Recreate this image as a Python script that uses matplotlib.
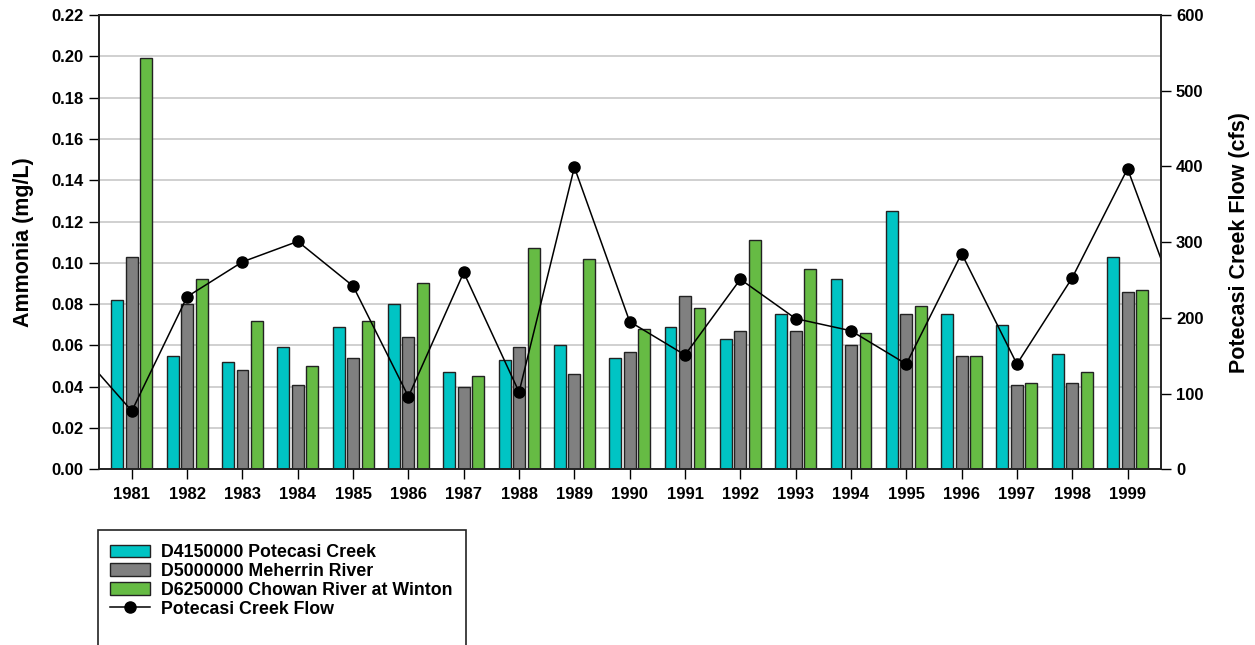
import numpy as np
import matplotlib.pyplot as plt
from matplotlib.lines import Line2D
from matplotlib.patches import Patch, Rectangle

plt.rcParams['font.family'] = ['Liberation Sans', 'DejaVu Sans']
plt.rcParams['font.weight'] = 'bold'

# data
years = ['1981', '1982', '1983', '1984', '1985', '1986', '1987', '1988', '1989', '1990',
         '1991', '1992', '1993', '1994', '1995', '1996', '1997', '1998', '1999']
potecasi = [0.082, 0.055, 0.052, 0.059, 0.069, 0.080, 0.047, 0.053, 0.060, 0.054,
            0.069, 0.063, 0.075, 0.092, 0.125, 0.075, 0.070, 0.056, 0.103]
meherrin = [0.103, 0.080, 0.048, 0.041, 0.054, 0.064, 0.040, 0.059, 0.046, 0.057,
            0.084, 0.067, 0.067, 0.060, 0.075, 0.055, 0.041, 0.042, 0.086]
chowan = [0.199, 0.092, 0.072, 0.050, 0.072, 0.090, 0.045, 0.107, 0.102, 0.068,
          0.078, 0.111, 0.097, 0.066, 0.079, 0.055, 0.042, 0.047, 0.087]
# flow includes the years just outside the plotted range (1980 and 2000), clipped by the axes
flow_years = list(range(1980, 2001))
flow = [160, 77, 228, 274, 301, 242, 96, 260, 102, 399, 195,
        151, 251, 199, 183, 139, 285, 139, 253, 397, 200]

c_cyan = '#00C4C4'
c_gray = '#808080'
c_green = '#66BB44'

fig = plt.figure(figsize=(12.55, 6.45), dpi=100)
ax = fig.add_axes([0.0786, 0.2724, 0.8463, 0.7043])
ax2 = ax.twinx()

x = np.arange(len(years))
w = 0.215
off = 0.262
ax.bar(x - off, potecasi, w, color=c_cyan, edgecolor='#222222', linewidth=1, zorder=2)
ax.bar(x, meherrin, w, color=c_gray, edgecolor='#222222', linewidth=1, zorder=2)
ax.bar(x + off, chowan, w, color=c_green, edgecolor='#222222', linewidth=1, zorder=2)

fx = np.array(flow_years) - 1981
ax2.plot(fx, flow, color='black', linewidth=1.1, marker='o', markersize=8)

ax.set_xlim(-0.6, 18.6)
ax.set_ylim(0, 0.22)
ax.set_yticks(np.arange(0, 0.221, 0.02))
ax.set_yticklabels(['%.2f' % v for v in np.arange(0, 0.221, 0.02)])
ax.set_xticks(x)
ax.set_xticklabels(years)
ax.yaxis.grid(True, color='#c8c8c8', linewidth=1.2)
ax.set_axisbelow(True)

ax2.set_ylim(0, 600)
ax2.set_yticks(np.arange(0, 601, 100))

for a in (ax, ax2):
    a.tick_params(direction='out', length=7, width=1, labelsize=12, pad=4)
    for s in a.spines.values():
        s.set_linewidth(1.2)
        s.set_color('#222222')
ax.tick_params(axis='x', pad=6)

ax.set_ylabel('Ammonia (mg/L)', fontsize=15.5, fontweight='bold', labelpad=12)
ax2.set_ylabel('Potecasi Creek Flow (cfs)', fontsize=15.5, fontweight='bold', labelpad=18)

handles = [Patch(facecolor=c_cyan, edgecolor='#222222'),
           Patch(facecolor=c_gray, edgecolor='#222222'),
           Patch(facecolor=c_green, edgecolor='#222222'),
           Line2D([], [], color='black', linewidth=1.1, marker='o', markersize=8)]
labels = ['D4150000 Potecasi Creek', 'D5000000 Meherrin River',
          'D6250000 Chowan River at Winton', 'Potecasi Creek Flow']
fig.legend(handles, labels, loc='upper left', bbox_to_anchor=(0.0806, 0.17),
           frameon=False, fontsize=12.8, handlelength=2.25, handleheight=0.72,
           labelspacing=0.1, handletextpad=0.6, borderpad=0)

# legend box, running off the bottom of the figure as in the reference
fig.patches.append(Rectangle((0.078, -0.05), 0.293, 0.228, transform=fig.transFigure,
                             fill=False, edgecolor='#222222', linewidth=1.2))

fig.savefig('out.png', dpi=100)
